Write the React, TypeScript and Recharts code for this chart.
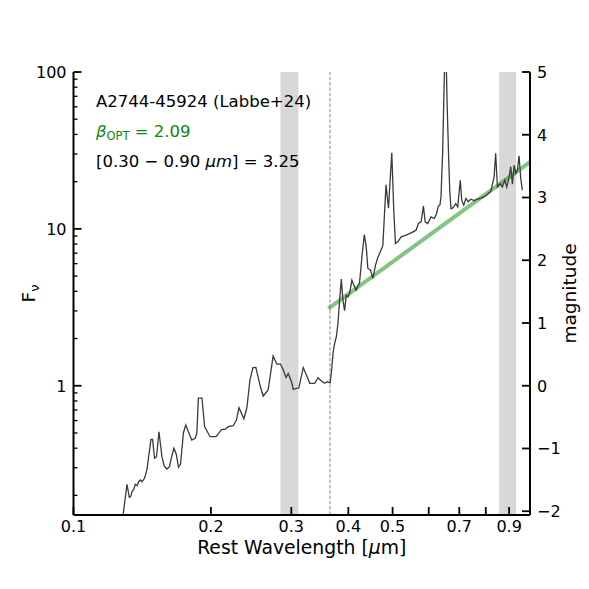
import React from 'react';
import { ComposedChart, Line, XAxis, YAxis, ReferenceArea, ReferenceLine } from 'recharts';

// rest-frame wavelength [um] and F_nu of the spectrum
const wavelength = [
  0.1280, 0.1310, 0.1325, 0.1336, 0.1343, 0.1354, 0.1366, 0.1378, 0.1389, 0.1401,
  0.1413, 0.1431, 0.1448, 0.1478, 0.1490, 0.1505, 0.1520, 0.1539, 0.1562, 0.1580,
  0.1602, 0.1623, 0.1637, 0.1659, 0.1679, 0.1698, 0.1716, 0.1741, 0.1762, 0.1785,
  0.1816, 0.1847, 0.1863, 0.1877, 0.1912, 0.1937, 0.1991, 0.2052, 0.2112, 0.2147,
  0.2183, 0.2239, 0.2275, 0.2304, 0.2362, 0.2398, 0.2435, 0.2472, 0.2509, 0.2567,
  0.2603, 0.2669, 0.2737, 0.2788, 0.2841, 0.2881, 0.2922, 0.2954, 0.3003, 0.3030,
  0.3079, 0.3115, 0.3186, 0.3238, 0.3292, 0.3376, 0.3433, 0.3491, 0.3550, 0.3598,
  0.3649, 0.3677, 0.3705, 0.3733, 0.3765, 0.3796, 0.3828, 0.3861, 0.3892, 0.3925,
  0.3959, 0.3991, 0.4025, 0.4072, 0.4113, 0.4159, 0.4233, 0.4291, 0.4336, 0.4378,
  0.4414, 0.4474, 0.4526, 0.4588, 0.4641, 0.4681, 0.4760, 0.4837, 0.4898, 0.4980,
  0.5030, 0.5073, 0.5132, 0.5221, 0.5354, 0.5490, 0.5630, 0.5696, 0.5774, 0.5841,
  0.5893, 0.5968, 0.6071, 0.6172, 0.6243, 0.6297, 0.6351, 0.6383, 0.6435, 0.6474,
  0.6530, 0.6580, 0.6637, 0.6671, 0.6713, 0.6791, 0.6877, 0.6947, 0.7035, 0.7087,
  0.7159, 0.7238, 0.7322, 0.7422, 0.7546, 0.7672, 0.7806, 0.7937, 0.8070, 0.8208,
  0.8346, 0.8409, 0.8485, 0.8601, 0.8701, 0.8807, 0.8895, 0.8998, 0.9077, 0.9150,
  0.9229, 0.9308, 0.9383, 0.9462, 0.9543, 0.9620,
];

const flux = [
  0.14, 0.2355, 0.1946, 0.198, 0.2113, 0.2167, 0.2355, 0.2307, 0.2446, 0.2508,
  0.2446, 0.2571, 0.2904, 0.4556, 0.4556, 0.3448, 0.353, 0.5093, 0.353, 0.3079,
  0.2946, 0.3048, 0.3448, 0.3993, 0.3673, 0.302, 0.3172, 0.5019, 0.5619, 0.5093,
  0.4509, 0.4624, 0.4975, 0.835, 0.835, 0.5497, 0.4733, 0.4733, 0.5276, 0.527,
  0.548, 0.5561, 0.6046, 0.7244, 0.6163, 0.7265, 1.087, 1.306, 1.31, 0.985,
  0.86, 0.939, 1.546, 1.375, 1.375, 1.259, 1.131, 1.196, 1.06, 0.9486,
  0.9625, 0.967, 1.306, 1.17, 1.036, 1.036, 1.124, 1.071, 1.036, 1.06,
  1.045, 1.259, 1.639, 1.862, 2.052, 2.497, 3.516, 4.782, 3.516, 3.013,
  3.782, 3.688, 3.877, 4.712, 4.379, 4.07, 4.543, 6.97, 9.19, 7.68,
  5.595, 5.458, 4.831, 5.872, 6.574, 6.95, 7.82, 19.12, 13.55, 30.58,
  13.16, 8.07, 8.27, 8.89, 9.12, 9.43, 9.81, 10.82, 11.08, 13.95,
  11.08, 10.82, 11.92, 11.65, 12.53, 13.95, 14.26, 15.99, 30.22, 66,
  200, 66, 27.39, 17.64, 13.45, 13.65, 14.47, 13.81, 20.43, 15.23,
  14.16, 15.62, 14.9, 15.46, 15.17, 15.46, 15.69, 16.04, 16.63, 17.39,
  21.5, 30.35, 18.51, 19.46, 18.51, 20.43, 18.51, 21.35, 24.9, 19.26,
  25.45, 22.54, 23.65, 29.26, 21.03, 17.64,
];

// optical power-law fit (green)
const fitWavelength = [0.3646, 1.0];
const fitFlux = [3.16, 26.7];

const xTicks = [0.1, 0.2, 0.3, 0.4, 0.5, 0.6, 0.7, 0.8, 0.9];
const xTickLabels = [0.1, 0.2, 0.3, 0.4, 0.5, 0.7, 0.9];
const yMajor = [1, 10, 100];
const yTicks = [0.2, 0.3, 0.4, 0.5, 0.6, 0.7, 0.8, 0.9, 1, 2, 3, 4, 5, 6, 7, 8, 9, 10, 20, 30, 40, 50, 60, 70, 80, 90, 100];
const magTicks = [-2, -1, 0, 1, 2, 3, 4, 5];
const bands = [[0.284, 0.311], [0.856, 0.932]];
const balmerBreak = 0.3646;

const spectrum = wavelength.map((lam, i) => ({ lam, f: flux[i] }));
const fit = fitWavelength.map((lam, i) => ({ lam, f: fitFlux[i] }));

const FONT = 'DejaVu Sans';

const BottomTick = (props: any) => {
  const { x, y, payload } = props;
  const show = xTickLabels.includes(payload.value);
  return (
    <g>
      <line x1={x} y1={y} x2={x} y2={y - 8} stroke="#000" strokeWidth={1.8} />
      {show && (
        <text x={x} y={y + 17} textAnchor="middle" fontSize={16} fontFamily={FONT} fill="#000">
          {payload.value}
        </text>
      )}
    </g>
  );
};

const TopTick = (props: any) => {
  const { x, y } = props;
  return <line x1={x} y1={y} x2={x} y2={y + 8} stroke="#000" strokeWidth={1.8} />;
};

const LeftTick = (props: any) => {
  const { x, y, payload } = props;
  const major = yMajor.includes(payload.value);
  return (
    <g>
      <line x1={x} y1={y} x2={x + (major ? 8 : 4)} y2={y} stroke="#000" strokeWidth={major ? 1.8 : 1.3} />
      {major && (
        <text x={x - 7} y={y + 5.8} textAnchor="end" fontSize={16} fontFamily={FONT} fill="#000">
          {payload.value}
        </text>
      )}
    </g>
  );
};

const RightTick = (props: any) => {
  const { x, y, payload } = props;
  return (
    <g>
      <line x1={x} y1={y} x2={x - 8} y2={y} stroke="#000" strokeWidth={1.8} />
      <text x={x + 7} y={y + 5.8} textAnchor="start" fontSize={16} fontFamily={FONT} fill="#000">
        {String(payload.value).replace('-', '\u2212')}
      </text>
    </g>
  );
};

const axisLine = { stroke: '#000', strokeWidth: 2 };

export default function App() {
  return (
    <div style={{ position: 'relative', width: 581, height: 581, fontFamily: FONT }}>
      <ComposedChart width={581} height={581} data={spectrum} margin={{ top: 64, right: 15, bottom: 30, left: 9.5 }}>
        <XAxis
          xAxisId="b"
          dataKey="lam"
          type="number"
          scale="log"
          domain={[0.1, 1]}
          allowDataOverflow
          ticks={xTicks}
          interval={0}
          tick={<BottomTick />}
          tickLine={false}
          tickSize={0}
          tickMargin={0}
          axisLine={axisLine}
          height={44}
        />
        <XAxis
          xAxisId="t"
          orientation="top"
          dataKey="lam"
          type="number"
          scale="log"
          domain={[0.1, 1]}
          allowDataOverflow
          ticks={xTicks}
          interval={0}
          tick={<TopTick />}
          tickLine={false}
          tickSize={0}
          tickMargin={0}
          axisLine={axisLine}
          height={0}
        />
        <YAxis
          yAxisId="f"
          type="number"
          scale="log"
          domain={[0.15, 100]}
          allowDataOverflow
          ticks={yTicks}
          interval={0}
          tick={<LeftTick />}
          tickLine={false}
          tickSize={0}
          tickMargin={0}
          axisLine={axisLine}
          width={56}
        />
        <YAxis
          yAxisId="mag"
          orientation="right"
          type="number"
          domain={[-2.06, 5]}
          allowDataOverflow
          ticks={magTicks}
          interval={0}
          tick={<RightTick />}
          tickLine={false}
          tickSize={0}
          tickMargin={0}
          axisLine={axisLine}
          width={44}
        />
        {bands.map(([a, b], i) => (
          <ReferenceArea key={i} xAxisId="b" yAxisId="f" x1={a} x2={b} fill="#d8d8d8" fillOpacity={1} stroke="none" />
        ))}
        <ReferenceLine xAxisId="b" yAxisId="f" x={balmerBreak} stroke="#8c8c8c" strokeWidth={1} strokeDasharray="3.7 1.6" />
        <Line
          xAxisId="b"
          yAxisId="f"
          data={fit}
          dataKey="f"
          type="linear"
          stroke="#2ca02c"
          strokeOpacity={0.6}
          strokeWidth={4}
          strokeLinecap="square"
          dot={false}
          isAnimationActive={false}
        />
        <Line
          xAxisId="b"
          yAxisId="f"
          dataKey="f"
          type="linear"
          stroke="#3a3a3a"
          strokeWidth={1.3}
          dot={false}
          isAnimationActive={false}
        />
      </ComposedChart>
      <svg width={581} height={581} style={{ position: 'absolute', left: 0, top: 0, pointerEvents: 'none' }}>
        <g fontFamily={FONT}>
          <text x={88} y={98.7} fontSize={16.5} fill="#000">A2744-45924 (Labbe+24)</text>
          <text x={88} y={128.5} fontSize={16.5} fill="#0a8a0a">
            <tspan fontStyle="italic">β</tspan>
            <tspan fontSize={11.5} dy={3.5}>OPT</tspan>
            <tspan dy={-3.5}> = 2.09</tspan>
          </text>
          <text x={88} y={159} fontSize={16.5} fill="#000">
            [0.30 − 0.90 <tspan fontStyle="italic">μm</tspan>] = 3.25
          </text>
          <text x={293.75} y={546} fontSize={18.8} textAnchor="middle" fill="#000">
            Rest Wavelength [<tspan fontStyle="italic">μ</tspan>m]
          </text>
          <text x={27} y={285.5} fontSize={18.5} textAnchor="middle" transform="rotate(-90, 27, 285.5)" fill="#000">
            F<tspan fontSize={13} dy={4}>ν</tspan>
          </text>
          <text x={568} y={285.5} fontSize={18.5} textAnchor="middle" transform="rotate(-90, 568, 285.5)" fill="#000">
            magnitude
          </text>
        </g>
      </svg>
    </div>
  );
}
